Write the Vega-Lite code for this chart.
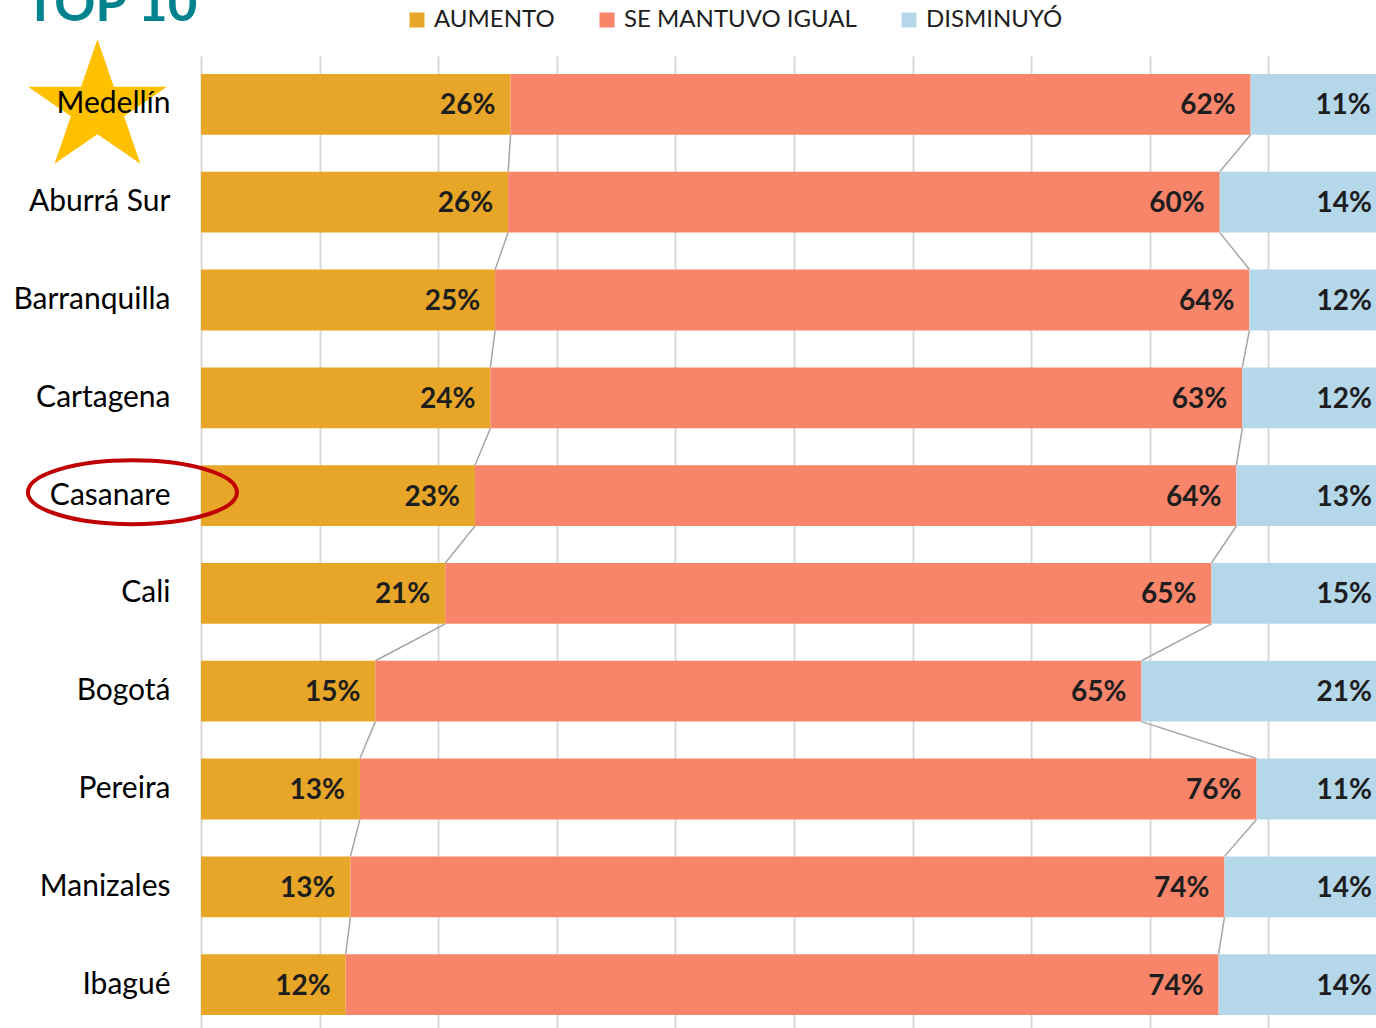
{
  "$schema": "https://vega.github.io/schema/vega-lite/v6.json",
  "autosize": {"type": "none"},
  "padding": {"left": 201, "top": 56, "right": 0, "bottom": 0},
  "width": 1186,
  "height": 977,
  "background": "white",
  "config": {
    "view": {"stroke": null},
    "font": "Lato"
  },
  "data": {
    "values": [
      {"ciudad": "Medellín", "serie": "AUMENTO", "valor": 0.261},
      {"ciudad": "Medellín", "serie": "SE MANTUVO IGUAL", "valor": 0.624},
      {"ciudad": "Medellín", "serie": "DISMINUYÓ", "valor": 0.114},
      {"ciudad": "Aburrá Sur", "serie": "AUMENTO", "valor": 0.259},
      {"ciudad": "Aburrá Sur", "serie": "SE MANTUVO IGUAL", "valor": 0.600},
      {"ciudad": "Aburrá Sur", "serie": "DISMINUYÓ", "valor": 0.141},
      {"ciudad": "Barranquilla", "serie": "AUMENTO", "valor": 0.248},
      {"ciudad": "Barranquilla", "serie": "SE MANTUVO IGUAL", "valor": 0.636},
      {"ciudad": "Barranquilla", "serie": "DISMINUYÓ", "valor": 0.116},
      {"ciudad": "Cartagena", "serie": "AUMENTO", "valor": 0.244},
      {"ciudad": "Cartagena", "serie": "SE MANTUVO IGUAL", "valor": 0.634},
      {"ciudad": "Cartagena", "serie": "DISMINUYÓ", "valor": 0.122},
      {"ciudad": "Casanare", "serie": "AUMENTO", "valor": 0.231},
      {"ciudad": "Casanare", "serie": "SE MANTUVO IGUAL", "valor": 0.642},
      {"ciudad": "Casanare", "serie": "DISMINUYÓ", "valor": 0.127},
      {"ciudad": "Cali", "serie": "AUMENTO", "valor": 0.206},
      {"ciudad": "Cali", "serie": "SE MANTUVO IGUAL", "valor": 0.646},
      {"ciudad": "Cali", "serie": "DISMINUYÓ", "valor": 0.148},
      {"ciudad": "Bogotá", "serie": "AUMENTO", "valor": 0.147},
      {"ciudad": "Bogotá", "serie": "SE MANTUVO IGUAL", "valor": 0.646},
      {"ciudad": "Bogotá", "serie": "DISMINUYÓ", "valor": 0.207},
      {"ciudad": "Pereira", "serie": "AUMENTO", "valor": 0.134},
      {"ciudad": "Pereira", "serie": "SE MANTUVO IGUAL", "valor": 0.756},
      {"ciudad": "Pereira", "serie": "DISMINUYÓ", "valor": 0.110},
      {"ciudad": "Manizales", "serie": "AUMENTO", "valor": 0.126},
      {"ciudad": "Manizales", "serie": "SE MANTUVO IGUAL", "valor": 0.737},
      {"ciudad": "Manizales", "serie": "DISMINUYÓ", "valor": 0.137},
      {"ciudad": "Ibagué", "serie": "AUMENTO", "valor": 0.122},
      {"ciudad": "Ibagué", "serie": "SE MANTUVO IGUAL", "valor": 0.736},
      {"ciudad": "Ibagué", "serie": "DISMINUYÓ", "valor": 0.142}
    ]
  },
  "transform": [
    {"stack": "valor", "groupby": ["ciudad"], "as": ["x0", "x1"]}
  ],
  "encoding": {
    "y": {
      "field": "ciudad",
      "type": "nominal",
      "sort": null,
      "scale": {"paddingInner": 0.378, "paddingOuter": 0.184},
      "axis": {
        "title": null,
        "ticks": false,
        "tickSize": 0,
        "domain": false,
        "labelFont": "Lato",
        "labelFontSize": 30,
        "labelColor": "#000000",
        "labelPadding": 31,
        "labelLimit": 400,
        "zindex": 2
      }
    }
  },
  "layer": [
    {
      "transform": [
        {"filter": "datum.serie != 'DISMINUYÓ'"},
        {"window": [
          {"op": "lead", "field": "x1", "as": "nx"},
          {"op": "lead", "field": "ciudad", "as": "nciudad"}
        ], "groupby": ["serie"]},
        {"filter": "datum.nciudad != null"}
      ],
      "mark": {"type": "rule", "color": "#A6A6A6", "strokeWidth": 1.5},
      "encoding": {
        "x": {
          "field": "x1",
          "type": "quantitative",
          "scale": {"domain": [0, 1], "nice": false, "zero": true},
          "axis": {
            "title": null,
            "labels": false,
            "ticks": false,
            "domain": false,
            "grid": true,
            "gridColor": "#D9D9D9",
            "gridWidth": 2,
            "values": [0, 0.1, 0.2, 0.3, 0.4, 0.5, 0.6, 0.7, 0.8, 0.9, 1]
          }
        },
        "y": {"field": "ciudad", "type": "nominal", "sort": null, "bandPosition": 1},
        "x2": {"field": "nx"},
        "y2": {"field": "nciudad", "bandPosition": 0}
      }
    },
    {
      "mark": {"type": "bar"},
      "encoding": {
        "x": {"field": "x0", "type": "quantitative"},
        "x2": {"field": "x1"},
        "color": {
          "field": "serie",
          "type": "nominal",
          "scale": {
            "domain": ["AUMENTO", "SE MANTUVO IGUAL", "DISMINUYÓ"],
            "range": ["#E7A628", "#F88469", "#B5D7EA"]
          },
          "legend": {
            "title": null,
            "orient": "none",
            "legendX": 204,
            "legendY": -48,
            "direction": "horizontal",
            "symbolType": "square",
            "symbolSize": 225,
            "symbolStrokeWidth": 0,
            "symbolOpacity": 1,
            "labelFont": "Lato",
            "labelFontSize": 24,
            "labelColor": "#1E1E1E",
            "labelOffset": 5,
            "labelLimit": 400,
            "columnPadding": 40
          }
        }
      }
    },
    {
      "transform": [{"filter": "datum.ciudad == 'Medellín' && datum.serie == 'AUMENTO'"}],
      "mark": {
        "type": "point",
        "filled": true,
        "opacity": 1,
        "color": "#FFC000",
        "shape": "M0,-0.936L0.236,-0.253L1,-0.253L0.382,0.17L0.618,0.853L0,0.431L-0.618,0.853L-0.382,0.17L-1,-0.253L-0.236,-0.253Z",
        "size": 19321
      },
      "encoding": {
        "x": {"datum": -0.0873, "type": "quantitative"}
      }
    },
    {
      "transform": [{"filter": "datum.ciudad == 'Medellín' && datum.serie == 'AUMENTO'"}],
      "mark": {
        "type": "text",
        "text": "TOP 10",
        "align": "left",
        "baseline": "alphabetic",
        "dy": -53,
        "font": "Lato",
        "fontSize": 51,
        "fontWeight": "bold",
        "color": "#00838F"
      },
      "encoding": {
        "x": {"datum": -0.1484, "type": "quantitative"},
        "y": {"field": "ciudad", "type": "nominal", "sort": null, "bandPosition": 0}
      }
    },
    {
      "transform": [{"filter": "datum.ciudad == 'Casanare' && datum.serie == 'AUMENTO'"}],
      "mark": {
        "type": "point",
        "filled": false,
        "opacity": 1,
        "color": "#C00000",
        "strokeWidth": 4,
        "shape": "M-1,-0.033A1,0.306 0 1,0 1,-0.033A1,0.306 0 1,0 -1,-0.033Z",
        "size": 43681
      },
      "encoding": {
        "x": {"datum": -0.0578, "type": "quantitative"}
      }
    },
    {
      "mark": {
        "type": "text",
        "align": "right",
        "baseline": "middle",
        "dx": -15,
        "dy": 2,
        "font": "Lato",
        "fontSize": 28,
        "fontWeight": "bold",
        "color": "#1E1E1E"
      },
      "encoding": {
        "x": {"field": "x1", "type": "quantitative"},
        "text": {"field": "valor", "type": "quantitative", "format": ".0%"}
      }
    }
  ]
}
